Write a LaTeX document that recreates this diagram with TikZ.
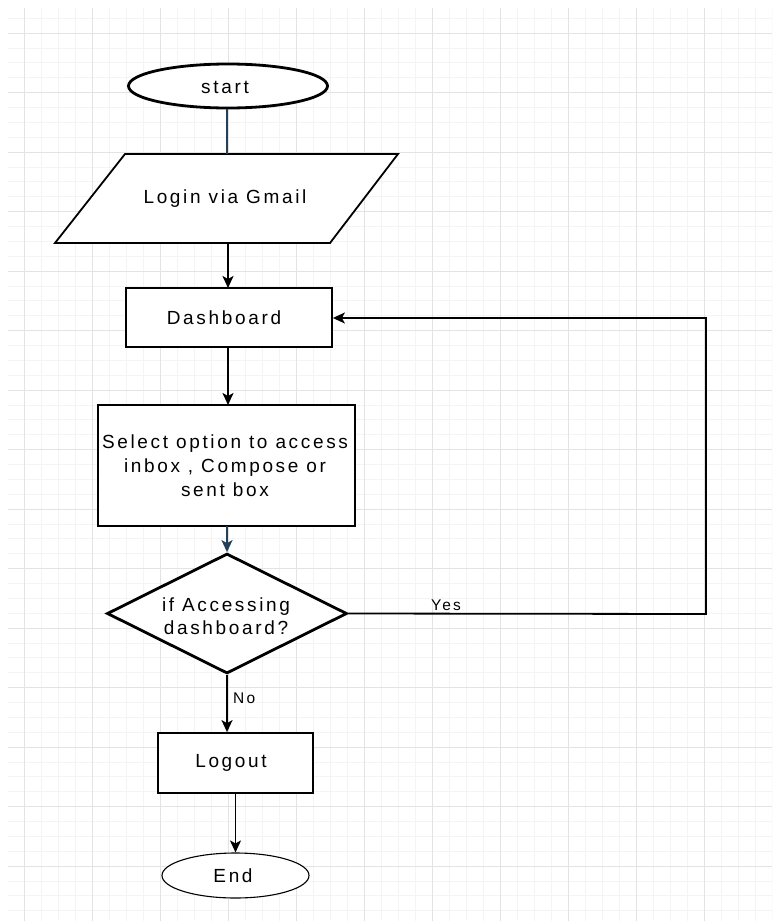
\documentclass[tikz,border=0pt]{standalone}
\usepackage{fontspec}
\setmainfont{Liberation Sans}[LetterSpace=14]
\usetikzlibrary{arrows.meta,shapes.geometric,calc}
\definecolor{gridmaj}{HTML}{E3E3E3}
\definecolor{gridmin}{HTML}{F4F4F4}
\definecolor{conblue}{HTML}{22405A}
\begin{document}
\begin{tikzpicture}[x=1pt,y=-1pt,
  shapeline/.style={draw=black,line width=1.8pt,fill=white},
  txt/.style={font=\fontsize{19}{24}\selectfont,align=center},
  lbl/.style={font=\fontsize{15.5}{18}\selectfont},
  conn/.style={line width=1.8pt,-{Stealth[length=12pt,width=11pt,inset=3pt]}},
]
\useasboundingbox (0,0) rectangle (772,921);
\fill[white] (0,0) rectangle (772,921);
% grid
\begin{scope}
\clip (8,8) rectangle (772,921);
\foreach \i in {0,...,48} {\draw[gridmin,line width=0.6pt] ({7+17*\i},8) -- ({7+17*\i},921);}
\foreach \j in {0,...,63} {\draw[gridmin,line width=0.6pt] (8,{18.1+14.875*\j}) -- (772,{18.1+14.875*\j});}
\foreach \i in {0,...,12} {\draw[gridmaj,line width=1pt] ({24+68*\i},8) -- ({24+68*\i},921);}
\foreach \j in {0,...,16} {\draw[gridmaj,line width=1pt] (8,{33+59.5*\j}) -- (772,{33+59.5*\j});}
\end{scope}
% nodes
\node[shapeline,line width=2.8pt,ellipse,minimum width=199pt,minimum height=44pt,inner sep=0pt] (start) at (228,86) {};
\node[txt] at (225,87) {start};
\draw[shapeline] (125,154) -- (398,154) -- (330,243) -- (55,243) -- cycle;
\coordinate (logintop) at (227,154);
\coordinate (loginbot) at (228,243);
\node[txt] (login) at (225,199) {Login via Gmail};
\node[shapeline,rectangle,minimum width=206pt,minimum height=59pt,inner sep=0pt] (dash) at (229,317.5) {};
\node[txt] at (224,318) {Dashboard};
\node[shapeline,rectangle,minimum width=257pt,minimum height=121pt,inner sep=0pt] (sel) at (226.5,465.5) {};
\node[txt] at (225,466) {Select option to access\\inbox , Compose or\\sent box};
\node[shapeline,line width=2.8pt,diamond,minimum width=240pt,minimum height=120pt,inner sep=0pt,aspect=2] (dia) at (227,613.5) {};
\node[txt,font=\fontsize{19}{23}\selectfont] at (226,616) {if Accessing\\dashboard?};
\node[shapeline,rectangle,minimum width=155pt,minimum height=60pt,inner sep=0pt] (logout) at (235.5,763) {};
\node[txt] at (231,763) {Logout};
\node[draw=black,line width=1.1pt,fill=white,ellipse,minimum width=147pt,minimum height=45pt,inner sep=0pt] (end) at (235.5,875.5) {};
\node[txt] at (233,876) {End};
% connectors
\draw[conblue,line width=1.6pt] (227,108.5) -- (logintop);
\draw[conn] (loginbot) -- (228,288);
\draw[conn] (228,347) -- (228,405);
\draw[conn,conblue] (227,526) -- (dia.north);
\draw[conn] (dia.south) -- (dia.south |- logout.north) node[lbl,pos=0.4,right=2pt] {No};
\draw[conn] (logout.south) -- (end.north);
\coordinate (c1) at (706,614);
\coordinate (c2) at (706,318);
\draw[conn] (dia.east) -- (c1) -- (c2) -- (dash.east |- c2);
\node[lbl] at (446,605) {Yes};
\end{tikzpicture}
\end{document}
